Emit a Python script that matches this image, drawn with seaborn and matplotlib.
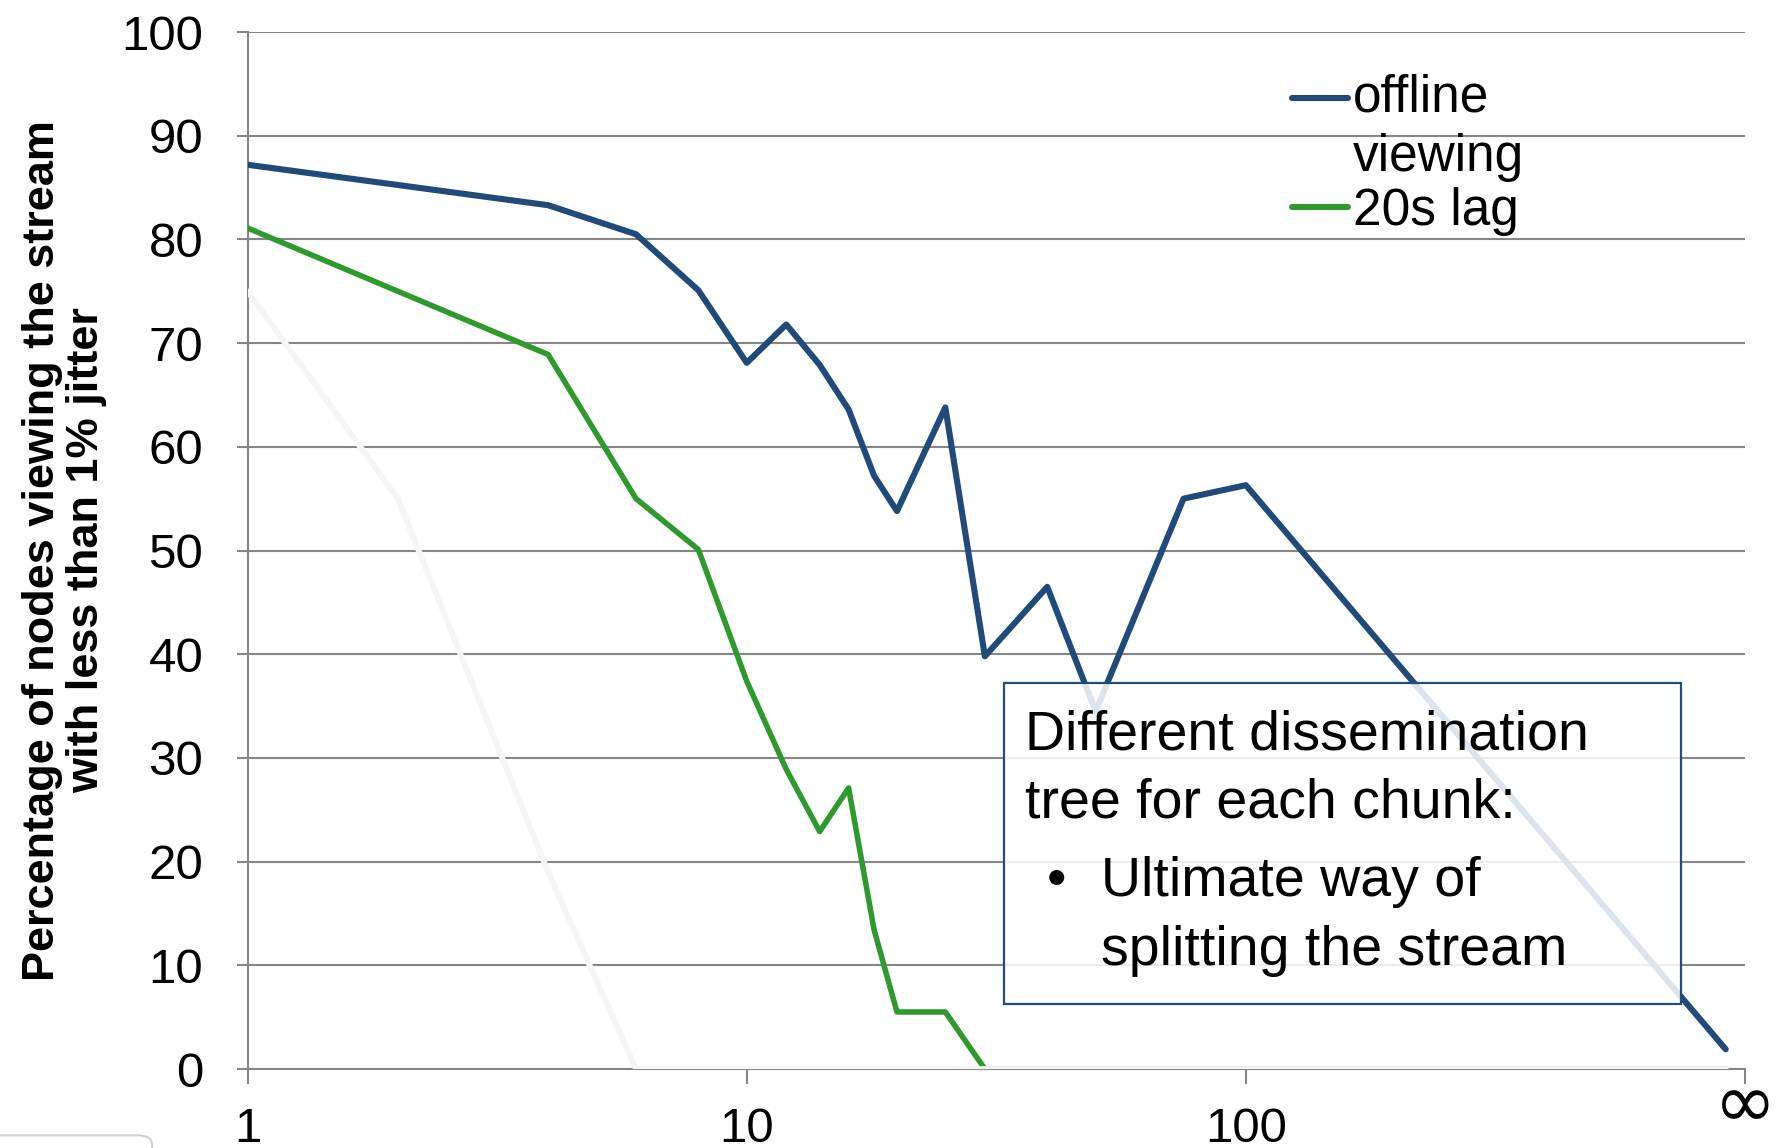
import numpy as np
import pandas as pd
import seaborn as sns
import matplotlib.pyplot as plt
from matplotlib.patches import Rectangle, FancyBboxPatch

# -- values --
offline_x = [1, 4, 6, 8, 10, 12, 14, 16, 18, 20, 25, 30, 40, 50, 75, 100, 915]
offline_y = [87.2, 83.3, 80.5, 75.1, 68.1, 71.8, 67.9, 63.6, 57.2, 53.8, 63.8, 39.8, 46.5, 34.5, 55.0, 56.3, 1.9]

lag_x = [1, 4, 6, 8, 10, 12, 14, 16, 18, 20, 25, 30, 915]
lag_y = [81.1, 68.9, 55.0, 50.1, 37.4, 28.9, 22.9, 27.1, 13.4, 5.5, 5.5, 0.0, 0.0]

faint_x = [1, 2, 4, 6, 915]
faint_y = [75.0, 55.0, 19.0, 0.0, 0.0]

xticks = [1, 10, 100, 1000]
xticklabels = ['1', '10', '100', '\u221e']
yticks = list(range(0, 101, 10))

blue = '#1F4A7A'
green = '#2E9A2E'
grey = '#868686'

sns.set_style('white')
plt.rcParams['font.family'] = ['Liberation Sans', 'DejaVu Sans']
plt.rcParams['text.color'] = 'black'
plt.rcParams['axes.labelcolor'] = 'black'
plt.rcParams['xtick.color'] = grey
plt.rcParams['ytick.color'] = grey
plt.rcParams['xtick.labelcolor'] = 'black'
plt.rcParams['ytick.labelcolor'] = 'black'

fig = plt.figure(figsize=(17.89, 11.48), dpi=100)
ax = fig.add_axes([0.1384, 0.0688, 0.8370, 0.9033])

sns.lineplot(x=lag_x, y=lag_y, ax=ax, color=green, lw=4.0, zorder=4, legend=False)
sns.lineplot(x=offline_x, y=offline_y, ax=ax, color=blue, lw=4.4, zorder=5, legend=False)
sns.lineplot(x=faint_x, y=faint_y, ax=ax, color='#F5F5F5', lw=4.2, zorder=5.5, legend=False)

ax.set_xscale('log')
ax.set_xlim(1, 1000)
ax.set_ylim(0, 100)
ax.set_xticks(xticks)
ax.set_xticklabels(xticklabels)
ax.minorticks_off()
ax.set_yticks(yticks)

ax.yaxis.grid(True, color=grey, lw=1.5, zorder=1)
ax.xaxis.grid(False)
ax.set_axisbelow(True)
for s in ['top', 'right']:
    ax.spines[s].set_visible(False)
for s in ['left', 'bottom']:
    ax.spines[s].set_color(grey)
    ax.spines[s].set_linewidth(1.5)

ax.tick_params(axis='y', direction='out', length=8, width=1.5,
               labelsize=35.5, pad=24, left=True)
ax.tick_params(axis='x', direction='out', length=11, width=1.5,
               labelsize=35.5, pad=16, bottom=True)

# the infinity label is drawn larger in the original
inf_lbl = ax.get_xticklabels()[-1]
inf_lbl.set_fontsize(54)
inf_lbl.set_fontfamily(['DejaVu Sans'])
inf_lbl.set_verticalalignment('center')

ax.set_ylabel('Percentage of nodes viewing the stream\nwith less than 1% jitter',
              fontsize=32.5, fontweight='bold', labelpad=10, linespacing=1.1)
ax.set_xlabel('')

# legend (only the two named series)
lines = ax.get_lines()
h_lag, h_off = lines[0], lines[1]
fs_leg = 37
ls_leg = 1.28
leg = ax.legend([h_off, h_lag], ['offline\nviewing', '20s lag'], loc='upper left',
                bbox_to_anchor=(0.68, 0.985), frameon=False, fontsize=fs_leg,
                handlelength=1.1, handletextpad=0.1, labelspacing=0.1, borderpad=0)
for t in leg.get_texts():
    t.set_linespacing(ls_leg)
for ll in leg.get_lines():
    ll.set_linewidth(4.4)
    ll.set_solid_capstyle('round')
# move the first handle up to the first text line
hl = leg.get_lines()[0]
yd = np.asarray(hl.get_ydata(), dtype=float)
hl.set_ydata(yd + 0.5 * fs_leg * ls_leg * 0.93)

# text box
ax.add_patch(Rectangle((0.505, 0.0627), 0.452, 0.3093, transform=ax.transAxes,
                       facecolor='white', alpha=0.85, edgecolor='none', zorder=6))
ax.add_patch(Rectangle((0.505, 0.0627), 0.452, 0.3093, transform=ax.transAxes,
                       facecolor='none', edgecolor='#1F4E79', lw=1.6, zorder=7))
tkw = dict(transform=ax.transAxes, fontsize=40, va='center', ha='left', zorder=8)
ax.text(0.519, 0.322, 'Different dissemination', **tkw)
ax.text(0.519, 0.256, 'tree for each chunk:', **tkw)
ax.text(0.534, 0.180, '\u2022', **tkw)
ax.text(0.570, 0.180, 'Ultimate way of', **tkw)
ax.text(0.570, 0.114, 'splitting the stream', **tkw)

# screenshot corner artifact bottom-left
fig.patches.append(FancyBboxPatch((-0.02, -0.03), 0.105, 0.041, transform=fig.transFigure,
                                  boxstyle='round,pad=0,rounding_size=0.008',
                                  facecolor='white', edgecolor='#CFCFCF', lw=1.5))

fig.savefig('out.png', dpi=100)
